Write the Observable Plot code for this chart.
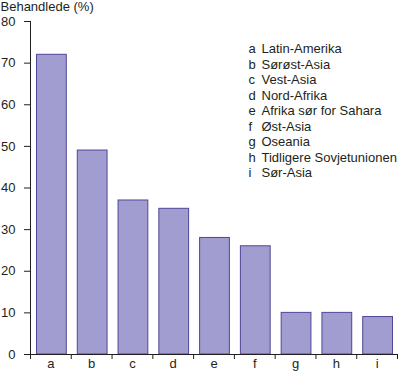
<!DOCTYPE html>
<html>
<head>
<meta charset="utf-8">
<script src="https://cdn.jsdelivr.net/npm/d3@7"></script>
<script src="https://cdn.jsdelivr.net/npm/@observablehq/plot@0.6"></script>
<style>
  html, body { margin: 0; padding: 0; background: #fff; }
  #chart svg { display: block; }
</style>
</head>
<body>
<div id="chart"></div>
<script>
const letters = ["a", "b", "c", "d", "e", "f", "g", "h", "i"];
const regions = ["Latin-Amerika", "Sørøst-Asia", "Vest-Asia", "Nord-Afrika", "Afrika sør for Sahara", "Øst-Asia", "Oseania", "Tidligere Sovjetunionen", "Sør-Asia"];
const values = [72, 49, 37, 35, 28, 26, 10, 10, 9];
const yTicks = [0, 10, 20, 30, 40, 50, 60, 70, 80];
const yLabel = "Behandlede (%)";

const data = letters.map((l, i) => ({letter: l, region: regions[i], value: values[i], i}));
const ink = "#231f20";
const font = "'Liberation Sans', Arial, Helvetica, sans-serif";

const chart = Plot.plot({
  width: 400,
  height: 373,
  marginLeft: 30,
  marginRight: 3,
  marginTop: 21,
  marginBottom: 19,
  style: {fontFamily: font, fontSize: "13px", color: ink, background: "#fff", overflow: "visible"},
  x: {domain: [0, letters.length], axis: null},
  y: {domain: [0, 80], axis: null},
  marks: [
    Plot.rectY(data, {
      x1: "i", x2: d => d.i + 1, y: "value",
      insetLeft: 6.5, insetRight: 4.5,
      fill: "#a29dd0", stroke: "#4e4697", strokeWidth: 1
    }),
    Plot.axisY(yTicks, {
      tickSize: 6, tickPadding: 9, stroke: ink, fill: ink,
      fontSize: 13, label: null
    }),
    Plot.axisX(d3.range(letters.length + 1), {
      tickSize: 5, tickFormat: () => "", stroke: ink, label: null
    }),
    Plot.text(data, {
      x: d => d.i + 0.5, text: "letter", frameAnchor: "bottom",
      dy: 13, fill: ink, fontSize: 13
    }),
    Plot.ruleX([0], {stroke: ink, strokeWidth: 1}),
    Plot.ruleY([0], {stroke: ink, strokeWidth: 1}),
    Plot.text([yLabel], {
      frameAnchor: "top-left", dx: -30, dy: -14.5, textAnchor: "start",
      lineAnchor: "middle", fill: ink, fontSize: 13
    }),
    Plot.text([letters.join("\n")], {
      frameAnchor: "top-left", dx: 218, dy: 89, textAnchor: "start",
      lineAnchor: "middle", lineHeight: 1.192, fill: ink, fontSize: 13
    }),
    Plot.text([regions.join("\n")], {
      frameAnchor: "top-left", dx: 231, dy: 89, textAnchor: "start",
      lineAnchor: "middle", lineHeight: 1.192, fill: ink, fontSize: 13
    })
  ]
});
document.getElementById("chart").appendChild(chart);
</script>
</body>
</html>
